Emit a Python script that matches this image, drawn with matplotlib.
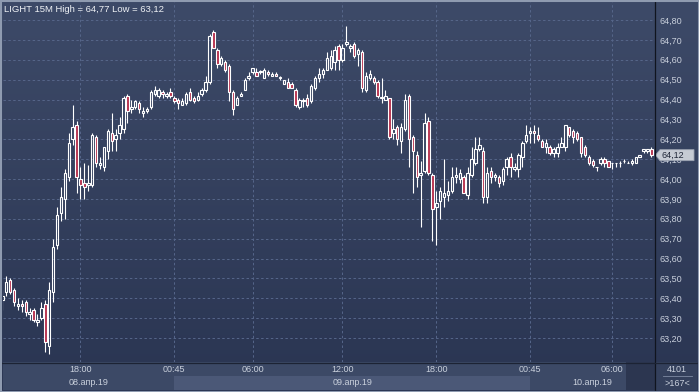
import numpy as np
import matplotlib
matplotlib.use("Agg")
import matplotlib.pyplot as plt
from matplotlib.colors import LinearSegmentedColormap
from matplotlib.patches import Rectangle, Polygon
from matplotlib.lines import Line2D
from matplotlib.transforms import blended_transform_factory

plt.rcParams["font.family"] = ["Liberation Sans", "DejaVu Sans"]

title = "LIGHT 15M High = 64,77 Low = 63,12"

# 15-minute OHLC candles, 08.04.19 afternoon -> 10.04.19 morning
opens = [63.39, 63.43, 63.49, 63.44, 63.36, 63.37, 63.38, 63.32, 63.34, 63.28,
         63.30, 63.37, 63.16, 63.43, 63.67, 63.83, 63.90, 64.01, 64.20, 64.27,
         64.00, 63.98, 63.97, 63.97, 64.21, 64.07, 64.06, 64.14, 64.23, 64.20,
         64.23, 64.25, 64.42, 64.35, 64.36, 64.38, 64.33, 64.34, 64.36, 64.43,
         64.42, 64.44, 64.42, 64.44, 64.41, 64.40, 64.37, 64.38, 64.44, 64.41,
         64.40, 64.43, 64.45, 64.49, 64.74, 64.65, 64.58, 64.59, 64.57, 64.44,
         64.37, 64.42, 64.45, 64.51, 64.54, 64.54, 64.54, 64.51, 64.54, 64.52,
         64.53, 64.51, 64.48, 64.49, 64.48, 64.45, 64.36, 64.40, 64.41, 64.39,
         64.46, 64.51, 64.53, 64.55, 64.56, 64.59, 64.67, 64.60, 64.68, 64.66,
         64.68, 64.63, 64.64, 64.45, 64.51, 64.51, 64.49, 64.41, 64.40, 64.41,
         64.23, 64.26, 64.19, 64.25, 64.42, 64.21, 64.12, 64.02, 64.04, 64.29,
         64.02, 63.86, 63.89, 63.91, 63.92, 63.94, 64.01, 64.00, 64.01, 63.92,
         64.02, 64.08, 64.15, 64.14, 63.91, 64.04, 64.01, 64.01, 63.99, 64.06,
         64.11, 64.05, 64.05, 64.11, 64.19, 64.23, 64.24, 64.22, 64.19, 64.16,
         64.16, 64.13, 64.13, 64.16, 64.16, 64.26, 64.24, 64.23, 64.21, 64.16,
         64.11, 64.09, 64.06, 64.08, 64.10, 64.09, 64.08, 64.08, 64.08, 64.09,
         64.08, 64.08, 64.08, 64.11, 64.14, 64.14, 64.15]
highs = [63.44, 63.51, 63.50, 63.45, 63.40, 63.39, 63.39, 63.35, 63.35, 63.32,
         63.38, 63.39, 63.48, 63.70, 63.86, 63.96, 64.05, 64.23, 64.37, 64.29,
         64.06, 64.08, 64.07, 64.23, 64.22, 64.11, 64.16, 64.25, 64.33, 64.25,
         64.31, 64.42, 64.43, 64.40, 64.40, 64.39, 64.36, 64.36, 64.45, 64.47,
         64.46, 64.45, 64.44, 64.46, 64.42, 64.41, 64.41, 64.44, 64.46, 64.42,
         64.44, 64.46, 64.52, 64.73, 64.75, 64.66, 64.62, 64.60, 64.58, 64.45,
         64.42, 64.44, 64.51, 64.54, 64.56, 64.56, 64.55, 64.56, 64.55, 64.54,
         64.54, 64.52, 64.50, 64.51, 64.49, 64.46, 64.41, 64.41, 64.43, 64.48,
         64.52, 64.56, 64.56, 64.64, 64.65, 64.67, 64.68, 64.68, 64.77, 64.68,
         64.69, 64.66, 64.65, 64.54, 64.55, 64.52, 64.50, 64.51, 64.45, 64.41,
         64.30, 64.27, 64.28, 64.43, 64.43, 64.22, 64.14, 64.09, 64.33, 64.31,
         64.03, 63.94, 63.96, 64.10, 63.99, 64.06, 64.06, 64.05, 64.02, 64.06,
         64.16, 64.21, 64.21, 64.16, 64.06, 64.06, 64.03, 64.02, 64.06, 64.11,
         64.13, 64.08, 64.13, 64.19, 64.27, 64.26, 64.27, 64.26, 64.20, 64.20,
         64.17, 64.16, 64.18, 64.21, 64.27, 64.26, 64.25, 64.24, 64.21, 64.17,
         64.12, 64.10, 64.06, 64.11, 64.11, 64.09, 64.08, 64.08, 64.09, 64.10,
         64.09, 64.10, 64.11, 64.12, 64.15, 64.15, 64.16]
lows = [63.34, 63.41, 63.42, 63.36, 63.34, 63.33, 63.31, 63.29, 63.28, 63.26,
        63.29, 63.13, 63.12, 63.38, 63.65, 63.79, 63.80, 63.99, 64.17, 63.93,
        63.90, 63.90, 63.94, 63.96, 64.06, 64.05, 64.04, 64.10, 64.14, 64.14,
        64.20, 64.23, 64.28, 64.33, 64.35, 64.33, 64.31, 64.33, 64.35, 64.42,
        64.41, 64.41, 64.41, 64.41, 64.38, 64.35, 64.37, 64.37, 64.39, 64.38,
        64.39, 64.42, 64.44, 64.48, 64.66, 64.56, 64.57, 64.54, 64.39, 64.32,
        64.37, 64.42, 64.45, 64.50, 64.53, 64.52, 64.53, 64.51, 64.52, 64.52,
        64.52, 64.50, 64.48, 64.46, 64.46, 64.36, 64.35, 64.36, 64.36, 64.38,
        64.45, 64.49, 64.51, 64.55, 64.55, 64.55, 64.55, 64.59, 64.67, 64.64,
        64.61, 64.57, 64.44, 64.44, 64.50, 64.48, 64.41, 64.38, 64.40, 64.20,
        64.20, 64.17, 64.13, 64.24, 64.06, 63.93, 63.96, 63.76, 64.03, 64.02,
        63.69, 63.67, 63.80, 63.86, 63.89, 63.93, 63.98, 63.98, 63.93, 63.90,
        64.01, 64.07, 64.14, 63.88, 63.88, 63.98, 63.99, 63.96, 63.97, 64.02,
        64.01, 64.04, 64.01, 64.06, 64.18, 64.18, 64.18, 64.19, 64.16, 64.13,
        64.12, 64.11, 64.11, 64.16, 64.14, 64.21, 64.18, 64.19, 64.11, 64.11,
        64.07, 64.06, 64.04, 64.07, 64.06, 64.06, 64.05, 64.06, 64.06, 64.08,
        64.08, 64.07, 64.08, 64.11, 64.13, 64.13, 64.11]
closes = [63.41, 63.48, 63.43, 63.38, 63.37, 63.36, 63.33, 63.33, 63.29, 63.29,
          63.35, 63.18, 63.44, 63.66, 63.82, 63.91, 64.03, 64.18, 64.26, 64.01,
          63.97, 63.96, 63.98, 64.22, 64.08, 64.08, 64.16, 64.24, 64.19, 64.22,
          64.27, 64.41, 64.34, 64.36, 64.39, 64.35, 64.34, 64.35, 64.44, 64.45,
          64.45, 64.43, 64.43, 64.42, 64.39, 64.38, 64.39, 64.43, 64.40, 64.39,
          64.42, 64.45, 64.49, 64.72, 64.66, 64.58, 64.61, 64.55, 64.44, 64.35,
          64.41, 64.43, 64.50, 64.52, 64.56, 64.52, 64.54, 64.55, 64.53, 64.53,
          64.52, 64.51, 64.50, 64.46, 64.46, 64.37, 64.40, 64.39, 64.37, 64.47,
          64.51, 64.53, 64.55, 64.61, 64.62, 64.65, 64.60, 64.66, 64.69, 64.67,
          64.62, 64.65, 64.46, 64.52, 64.53, 64.49, 64.42, 64.41, 64.42, 64.21,
          64.25, 64.20, 64.26, 64.40, 64.20, 64.14, 64.01, 64.03, 64.28, 64.03,
          63.85, 63.88, 63.94, 63.93, 63.94, 64.01, 64.02, 64.03, 63.93, 64.03,
          64.10, 64.15, 64.17, 63.91, 64.03, 64.01, 64.02, 63.98, 64.05, 64.10,
          64.06, 64.06, 64.12, 64.18, 64.22, 64.24, 64.23, 64.20, 64.16, 64.18,
          64.13, 64.15, 64.16, 64.18, 64.27, 64.22, 64.21, 64.20, 64.13, 64.12,
          64.08, 64.07, 64.06, 64.10, 64.08, 64.06, 64.08, 64.08, 64.08, 64.09,
          64.08, 64.09, 64.11, 64.12, 64.15, 64.15, 64.12]

# candle index of each time label, and the first candle of each new day
time_ticks = [20, 44, 64, 87, 111, 135, 156]
time_labels = ["18:00", "00:45", "06:00", "12:00", "18:00", "00:45", "06:00"]
day_starts = [44, 135]
day_labels = ["08.апр.19", "09.апр.19", "10.апр.19"]
price_ticks = [63.2, 63.3, 63.4, 63.5, 63.6, 63.7, 63.8, 63.9,
               64.0, 64.1, 64.2, 64.3, 64.4, 64.5, 64.6, 64.7, 64.8]
total_bars = 4101
visible_bars = 167

W, H = 699, 392
def fx(px): return px / W
def fy(py): return 1 - py / H

TXT = "#c9d0dc"
RED = "#b8324f"

fig = plt.figure(figsize=(W / 100, H / 100), dpi=100)

# gradient background
bg = fig.add_axes([0, 0, 1, 1], zorder=0)
cmap = LinearSegmentedColormap.from_list("bg", ["#2a3552", "#3d4a68"])
bg.imshow(np.linspace(0, 1, 256).reshape(-1, 1)[::-1], aspect="auto", cmap=cmap,
          extent=[0, 1, 0, 1])
bg.axis("off")

# main price panel
ax = fig.add_axes([fx(3), fy(362), fx(655) - fx(3), fy(2) - fy(362)], zorder=2)
ax.set_facecolor("none")
n = len(opens)
x = np.arange(n)
o, h, l, c = map(np.array, (opens, highs, lows, closes))
top = np.maximum(o, c)
bot = np.minimum(o, c)
ax.vlines(x, top, h, color="white", lw=0.8, zorder=3)
ax.vlines(x, l, bot, color="white", lw=0.8, zorder=3)
face = [(0, 0, 0, 0) if cc >= oo else RED for oo, cc in zip(o, c)]
ax.bar(x, np.maximum(top - bot, 0.0015), bottom=bot, width=0.62,
       color=face, edgecolor="white", linewidth=0.8, zorder=4)

ax.set_xlim(0.18, 166.93)
ax.set_ylim(63.0793, 64.8906)
ax.set_xticks(time_ticks)
ax.set_yticks(price_ticks)
ax.grid(True, color="#56668a", linestyle=(0, (2.5, 2.5)), linewidth=0.7)
ax.set_axisbelow(True)
ax.tick_params(axis="x", length=0, labelbottom=False)
ax.yaxis.tick_right()
ax.tick_params(axis="y", length=0, pad=3, labelsize=6.5, labelcolor=TXT)
ax.set_yticklabels([f"{v:.2f}".replace(".", ",") for v in price_ticks])
for s in ax.spines.values():
    s.set_visible(False)

# last price marker
last = closes[-1]
tr = blended_transform_factory(ax.transAxes, ax.transData)
def axx(px): return (px - 3) / 652
hh = 5.5 / 198.75
ax.add_patch(Polygon([(axx(655.5), last), (axx(660), last + hh), (axx(694), last + hh),
                      (axx(694), last - hh), (axx(660), last - hh)], closed=True,
                     transform=tr, clip_on=False, facecolor="#c6cbd4",
                     edgecolor="#9aa2b0", lw=0.6, zorder=6))
ax.text(axx(662), last, f"{last:.2f}".replace(".", ","), transform=tr, va="center",
        ha="left", fontsize=6.5, color="#1d2436", zorder=7, clip_on=False)

# time axis
ax2 = fig.add_axes([fx(3), fy(390), fx(655) - fx(3), fy(362) - fy(390)], zorder=2)
ax2.set_facecolor("#3c4966")
ax2.set_xlim(ax.get_xlim())
ax2.set_ylim(0, 1)
ax2.axvspan(day_starts[0], day_starts[1], ymin=0, ymax=0.5, color="#4b5877", lw=0)
ax2.axvspan((626 - 2.3) / 3.91, ax.get_xlim()[1], color="#2c3650", lw=0)
for t, lab in zip(time_ticks, time_labels):
    ax2.text(t, 0.74, lab, ha="center", va="center", fontsize=6.5, color=TXT)
bounds = [ax.get_xlim()[0]] + day_starts + [ax.get_xlim()[1]]
for k, lab in enumerate(day_labels):
    ax2.text((bounds[k] + bounds[k + 1]) / 2, 0.27, lab, ha="center", va="center",
             fontsize=6.5, color=TXT)
ax2.set_xticks([])
ax2.set_yticks([])
for s in ax2.spines.values():
    s.set_visible(False)

# bottom-right counter box
fig.patches.append(Rectangle((fx(655), fy(390)), fx(697) - fx(655), fy(362) - fy(390),
                             transform=fig.transFigure, facecolor="#34405c", lw=0, zorder=1))
fig.text(fx(677), fy(369.5), str(total_bars), ha="center", va="center", fontsize=6.5,
         color=TXT, zorder=5)
fig.lines.append(Line2D([fx(663), fx(692)], [fy(376), fy(376)], transform=fig.transFigure,
                        color="#7d8aa2", lw=0.6, zorder=5))
fig.text(fx(677), fy(383), f">{visible_bars}<", ha="center", va="center", fontsize=6.5,
         color=TXT, zorder=5)

# separators and frame
fig.lines.append(Line2D([fx(655), fx(655)], [0, 1], transform=fig.transFigure,
                        color="#10141e", lw=0.9, zorder=5))
fig.lines.append(Line2D([0, 1], [fy(362.5), fy(362.5)], transform=fig.transFigure,
                        color="#1c2334", lw=0.9, zorder=5))
fig.patches.append(Rectangle((0, 0), 1, 1, transform=fig.transFigure, fill=False,
                             edgecolor="#8f9bb0", lw=2.2, zorder=10))

fig.text(fx(4), fy(9), title, ha="left", va="center", fontsize=6.8, color="#eef1f5",
         zorder=8)

fig.savefig("out.png", dpi=100)
